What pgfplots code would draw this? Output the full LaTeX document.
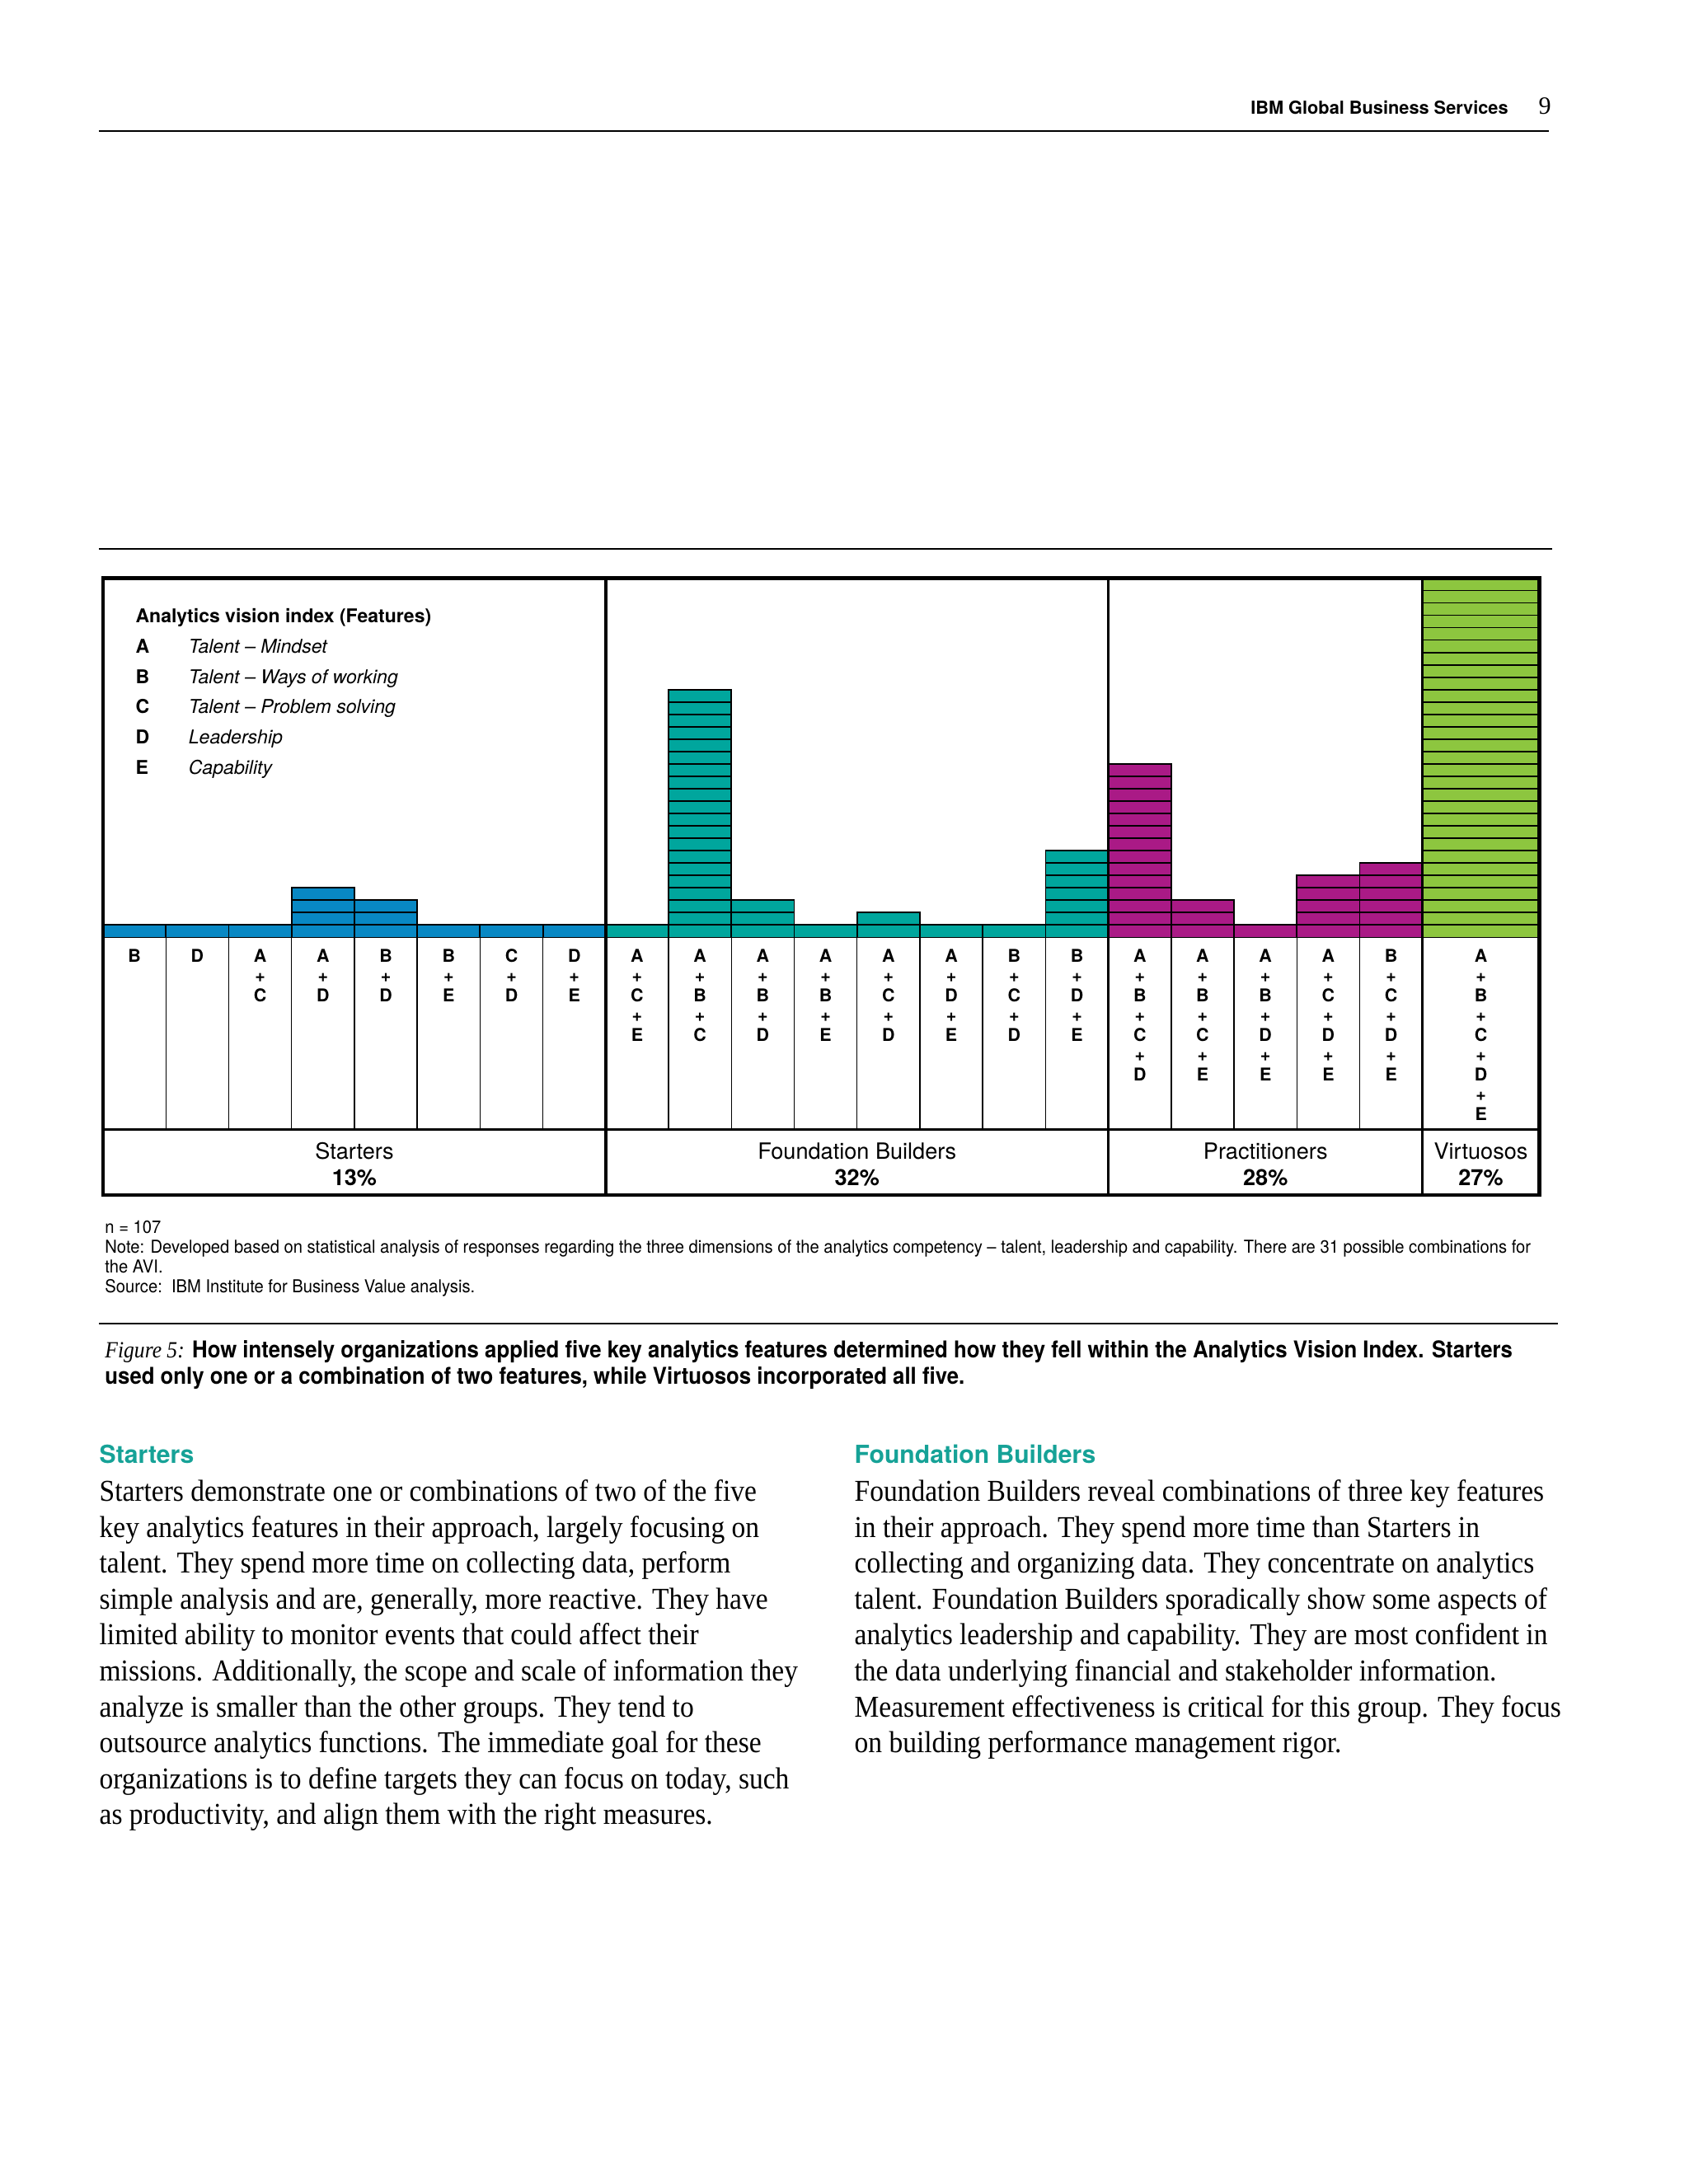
\documentclass[border=0pt]{standalone}
\usepackage{fontspec}
\setmainfont{Liberation Serif}
\newfontfamily\hv{TeX Gyre Heros}
\newfontfamily\hvc[FakeStretch=0.935]{TeX Gyre Heros}
\newfontfamily\hvm[FakeStretch=0.917]{TeX Gyre Heros}
\newfontfamily\gar[FakeStretch=0.91]{Liberation Serif}
\usepackage{pgfplots}
\pgfplotsset{compat=1.18}
\usepackage{pgfplotstable}

\definecolor{stblue}{HTML}{0888C4}
\definecolor{fbteal}{HTML}{00A69D}
\definecolor{prmag}{HTML}{AA1A86}
\definecolor{vigreen}{HTML}{8DC63F}
\definecolor{headteal}{HTML}{16A297}

% one row per combination: x = column centre, n = respondents
\pgfplotstableread{
x n
0.5 1
1.5 1
2.5 1
3.5 4
4.5 3
5.5 1
6.5 1
7.5 1
}\starters
\pgfplotstableread{
x n
8.5 1
9.5 20
10.5 3
11.5 1
12.5 2
13.5 1
14.5 1
15.5 7
}\builders
\pgfplotstableread{
x n
16.5 14
17.5 3
18.5 1
19.5 5
20.5 6
}\practitioners
\pgfplotstableread{
x n
21.93 29
}\virtuosos

% bars built from single-respondent blocks: tallest first, shorter on top
\newcommand\unitbars[4]{%
  \pgfplotsinvokeforeach{#4,...,1}{%
    \addplot[ybar, bar shift=0pt, bar width=#3, fill=#2, draw=black,
      line width=0.55pt, forget plot]
      table[x=x, y expr={min(\thisrow{n},##1)}] {#1};
  }}

\tikzset{t/.style={anchor=base west, inner sep=0pt}}

\begin{document}
\begin{tikzpicture}[x=0.50495bp, y=-0.50495bp]
\fill[white] (0,0) rectangle (1212,1568);

% running header
\node[t, anchor=base east] at (1083,82)
  {\hv\bfseries\fontsize{6.5bp}{8bp}\selectfont IBM Global Business Services};
\node[t] at (1104,82) {\fontsize{9bp}{10bp}\selectfont 9};
\draw[line width=0.6bp] (71,94) -- (1112,94);
\draw[line width=0.5bp] (71,394) -- (1114,394);

\begin{axis}[
    at={(37.366bp,-209.554bp)}, anchor=north west,
    scale only axis, width=520.60bp, height=130.28bp,
    xmin=0, xmax=22.86, ymin=0, ymax=29,
    axis line style={draw=none}, tick style={draw=none},
    major tick length=0pt, ytick=\empty,
    clip=false,
    xtick={0.5,1.5,2.5,3.5,4.5,5.5,6.5,7.5,8.5,9.5,10.5,11.5,12.5,13.5,
           14.5,15.5,16.5,17.5,18.5,19.5,20.5,21.93},
    xticklabels={{B},{D},{A\\+\\C},{A\\+\\D},{B\\+\\D},{B\\+\\E},{C\\+\\D},
      {D\\+\\E},{A\\+\\C\\+\\E},{A\\+\\B\\+\\C},{A\\+\\B\\+\\D},
      {A\\+\\B\\+\\E},{A\\+\\C\\+\\D},{A\\+\\D\\+\\E},{B\\+\\C\\+\\D},
      {B\\+\\D\\+\\E},{A\\+\\B\\+\\C\\+\\D},{A\\+\\B\\+\\C\\+\\E},
      {A\\+\\B\\+\\D\\+\\E},{A\\+\\C\\+\\D\\+\\E},{B\\+\\C\\+\\D\\+\\E},
      {A\\+\\B\\+\\C\\+\\D\\+\\E}},
    xticklabel style={font=\hv\bfseries\fontsize{6.4bp}{7.2bp}\selectfont,
      align=center, anchor=north, inner sep=0pt, yshift=-4bp},
  ]
  \unitbars{\starters}{stblue}{1}{4}
  \unitbars{\builders}{fbteal}{1}{20}
  \unitbars{\practitioners}{prmag}{1}{14}
  \unitbars{\virtuosos}{vigreen}{1.86}{29}
\end{axis}

% frame of the figure
\foreach \i in {1,2,3,4,5,6,7,9,10,11,12,13,14,15,17,18,19,20}
  \draw[line width=0.45bp] (74+45.1*\i,673) -- (74+45.1*\i,811);
\draw[line width=0.9bp] (74,811) -- (1105,811);
\foreach \xx in {434.8,795.6,1021.1}
  \draw[line width=1bp] (\xx,415) -- (\xx,858);
\draw[line width=1.3bp] (74,415) rectangle (1105,858);

% group names
\foreach \xx/\name/\pct in {254.4/Starters/13,615.2/Foundation Builders/32,
    908.4/Practitioners/28,1063/Virtuosos/27}{
  \node[inner sep=0pt, anchor=base] at (\xx,832)
    {\hv\fontsize{8.1bp}{9bp}\selectfont \name};
  \node[inner sep=0pt, anchor=base] at (\xx,851)
    {\hv\bfseries\fontsize{8.1bp}{9bp}\selectfont \pct\%};
}

% key of the features
\node[t] at (97,447) {\hv\bfseries\fontsize{6.87bp}{8bp}\selectfont Analytics vision index (Features)};
\foreach \yy/\k/\txt in {469/A/Talent – Mindset,491/B/Talent – Ways of working,
    512/C/Talent – Problem solving,534/D/Leadership,556/E/Capability}{
  \node[t] at (97,\yy) {\hv\bfseries\fontsize{6.9bp}{8bp}\selectfont \k};
  \node[t] at (135,\yy) {\hv\itshape\fontsize{6.9bp}{8bp}\selectfont \txt};
}

% notes
\foreach \yy/\txt in {885.5/{n = 107},
  899.7/{Note: Developed based on statistical analysis of responses regarding the three dimensions of the analytics competency – talent, leadership and capability. There are 31 possible combinations for},
  913.9/{the AVI.},
  928.1/{Source:\ \ IBM Institute for Business Value analysis.}}
  \node[t] at (75,\yy) {\hvc\fontsize{6.45bp}{7bp}\selectfont \txt};

\draw[line width=0.6bp] (71,950) -- (1118,950);

% caption
\node[t] at (75,975) {\fontsize{8.4bp}{10bp}\selectfont{\gar\itshape Figure 5:}
  \hvm\bfseries How intensely organizations applied five key analytics features determined how they fell within the Analytics Vision Index. Starters};
\node[t] at (75,994) {\hvm\bfseries\fontsize{8.4bp}{10bp}\selectfont used only one or a combination of two features, while Virtuosos incorporated all five.};

% two text columns
\node[t] at (71,1050.5) {\hv\bfseries\color{headteal}\fontsize{9bp}{10bp}\selectfont Starters};
\node[t] at (613,1050.5) {\hv\bfseries\color{headteal}\fontsize{9bp}{10bp}\selectfont Foundation Builders};
\foreach \txt [count=\i from 0] in {
  {Starters demonstrate one or combinations of two of the five},
  {key analytics features in their approach, largely focusing on},
  {talent. They spend more time on collecting data, perform},
  {simple analysis and are, generally, more reactive. They have},
  {limited ability to monitor events that could affect their},
  {missions. Additionally, the scope and scale of information they},
  {analyze is smaller than the other groups. They tend to},
  {outsource analytics functions. The immediate goal for these},
  {organizations is to define targets they can focus on today, such},
  {as productivity, and align them with the right measures.}}
  \node[t] at (71,1078+25.75*\i) {\gar\fontsize{11bp}{13bp}\selectfont \txt};
\foreach \txt [count=\i from 0] in {
  {Foundation Builders reveal combinations of three key features},
  {in their approach. They spend more time than Starters in},
  {collecting and organizing data. They concentrate on analytics},
  {talent. Foundation Builders sporadically show some aspects of},
  {analytics leadership and capability. They are most confident in},
  {the data underlying financial and stakeholder information.},
  {Measurement effectiveness is critical for this group. They focus},
  {on building performance management rigor.}}
  \node[t] at (613,1078+25.75*\i) {\gar\fontsize{11bp}{13bp}\selectfont \txt};
\end{tikzpicture}
\end{document}
